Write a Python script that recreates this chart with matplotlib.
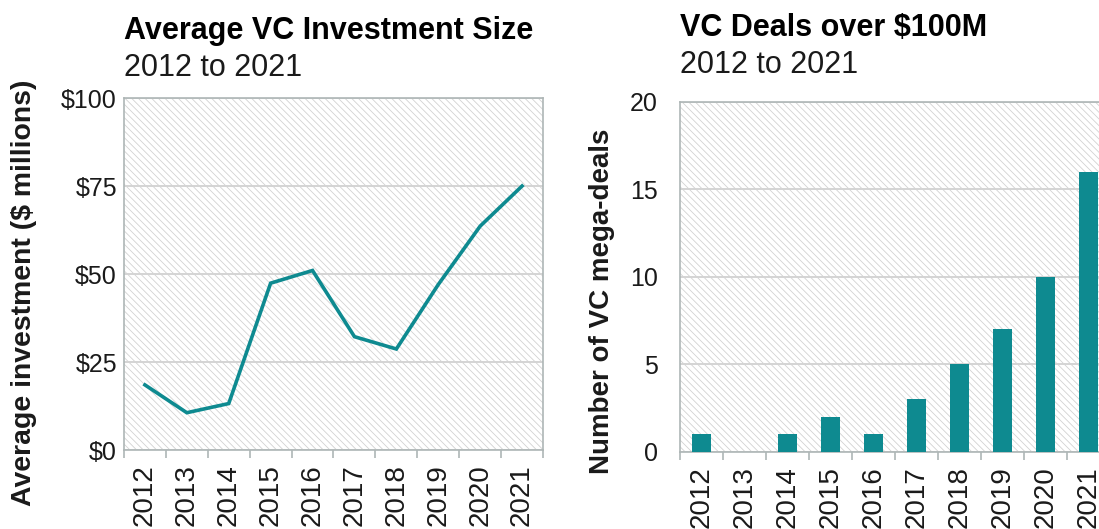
import numpy as np
import matplotlib
matplotlib.use("Agg")
import matplotlib.pyplot as plt
from matplotlib.patches import Rectangle

years = ["2012", "2013", "2014", "2015", "2016", "2017", "2018", "2019", "2020", "2021"]
avg_investment = [18.5, 10.6, 13.2, 47.4, 51.0, 32.2, 28.7, 47.0, 63.6, 75.0]
mega_deals = [1, 0, 1, 2, 1, 3, 5, 7, 10, 16]
inv_ticks = [0, 25, 50, 75, 100]
inv_ticklabels = ["$0", "$25", "$50", "$75", "$100"]
deal_ticks = [0, 5, 10, 15, 20]

teal = "#0e8a90"
grid_c = "#d4d4d4"
spine_c = "#aeb6b6"
txt = "#1a1a1a"

plt.rcParams['font.family'] = ['Liberation Sans', 'DejaVu Sans']
plt.rcParams['hatch.linewidth'] = 0.6

fig = plt.figure(figsize=(10.99, 5.29), dpi=100)
ax1 = fig.add_axes([0.1128, 0.1493, 0.3813, 0.6654])
ax2 = fig.add_axes([0.6187, 0.1456, 0.3913, 0.6616])


def style(ax, ticks, labels, ypad):
    n = len(years)
    ax.set_xlim(-0.5, n - 0.5)
    ax.set_ylim(ticks[0], ticks[-1])
    ax.add_patch(Rectangle((0, 0), 1, 1, transform=ax.transAxes, facecolor="white",
                           edgecolor="#d2d2d2", linewidth=0, hatch="\\" * 5, zorder=0.1))
    ax.set_axisbelow(True)
    ax.set_yticks(ticks)
    ax.set_yticklabels(labels)
    ax.yaxis.grid(True, color=grid_c, linewidth=1.4)
    ax.tick_params(axis="y", length=0, pad=ypad, labelsize=18, labelcolor=txt)
    # category boundaries get the tick marks, centres get the labels
    ax.set_xticks(np.arange(n + 1) - 0.5)
    ax.set_xticklabels([])
    ax.set_xticks(np.arange(n), minor=True)
    ax.set_xticklabels(years, minor=True, rotation=90)
    ax.tick_params(axis="x", which="major", length=6, width=1.2, color=spine_c)
    ax.tick_params(axis="x", which="minor", length=0, pad=10, labelsize=20, labelcolor=txt)
    for s in ax.spines.values():
        s.set_color(spine_c)
        s.set_linewidth(1.2)


style(ax1, inv_ticks, inv_ticklabels, 5)
ax1.plot(np.arange(len(years)), avg_investment, color=teal, linewidth=2.6,
         solid_joinstyle="miter", zorder=3)

style(ax2, deal_ticks, [str(t) for t in deal_ticks], 16)
ax2.bar(np.arange(len(years)), mega_deals, width=0.44, color=teal, zorder=3)

fig.text(0.1128, 0.926, "Average VC Investment Size", fontsize=22, fontweight="bold",
         color="black", va="baseline")
fig.text(0.1128, 0.856, "2012 to 2021", fontsize=22, color=txt, va="baseline")
fig.text(0.6187, 0.932, "VC Deals over $100M", fontsize=22, fontweight="bold",
         color="black", va="baseline")
fig.text(0.6187, 0.862, "2012 to 2021", fontsize=22, color=txt, va="baseline")

fig.text(0.022, 0.446, "Average investment ($ millions)", rotation=90, fontsize=20.4,
         fontweight="bold", color=txt, ha="center", va="center")
fig.text(0.548, 0.431, "Number of VC mega-deals", rotation=90, fontsize=20,
         fontweight="bold", color=txt, ha="center", va="center")

fig.savefig("out.png", dpi=100)
